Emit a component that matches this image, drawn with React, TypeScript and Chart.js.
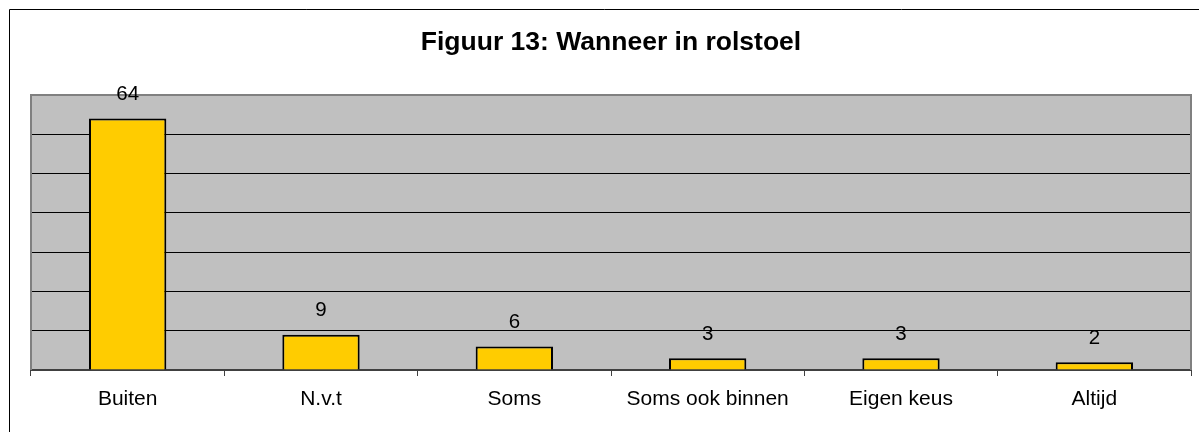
import React, { useEffect, useRef } from "react";
import { Chart, registerables } from "chart.js";

Chart.register(...registerables);

const categories = ["Buiten", "N.v.t", "Soms", "Soms ook binnen", "Eigen keus", "Altijd"];
const values = [64, 9, 6, 3, 3, 2];
const yMax = 70;
const yStep = 10;
const titleText = "Figuur 13: Wanneer in rolstoel";

const FONT = "'Liberation Sans', Arial, sans-serif";

const framePlugin = {
  id: "framePlugin",
  beforeDraw(chart: any) {
    const { ctx, chartArea } = chart;
    ctx.save();
    ctx.fillStyle = "#ffffff";
    ctx.fillRect(0, 0, chart.width, chart.height);
    // outer frame (left and top visible)
    ctx.strokeStyle = "#000000";
    ctx.lineWidth = 1;
    ctx.beginPath();
    ctx.moveTo(9.5, chart.height);
    ctx.lineTo(9.5, 9.5);
    ctx.lineTo(chart.width, 9.5);
    ctx.stroke();
    // plot background
    ctx.fillStyle = "#C0C0C0";
    ctx.fillRect(chartArea.left, chartArea.top, chartArea.right - chartArea.left, chartArea.bottom - chartArea.top);
    // title
    ctx.fillStyle = "#000000";
    ctx.font = `bold 26.5px ${FONT}`;
    ctx.textAlign = "center";
    ctx.textBaseline = "middle";
    ctx.fillText(titleText, (chartArea.left + chartArea.right) / 2, 43);
    ctx.restore();
  },
  afterDatasetsDraw(chart: any) {
    const { ctx, chartArea } = chart;
    ctx.save();
    // plot border: left, top, right grey
    ctx.strokeStyle = "#808080";
    ctx.lineWidth = 2;
    ctx.beginPath();
    ctx.moveTo(chartArea.left, chartArea.bottom);
    ctx.lineTo(chartArea.left, chartArea.top);
    ctx.lineTo(chartArea.right, chartArea.top);
    ctx.lineTo(chartArea.right, chartArea.bottom);
    ctx.stroke();
    // data labels
    const meta = chart.getDatasetMeta(0);
    ctx.fillStyle = "#000000";
    ctx.font = `20.5px ${FONT}`;
    ctx.textAlign = "center";
    ctx.textBaseline = "middle";
    meta.data.forEach((el: any, i: number) => {
      ctx.fillText(String(values[i]), el.x, el.y - 24);
    });
    ctx.restore();
  },
};

export default function App() {
  const ref = useRef<HTMLCanvasElement | null>(null);
  useEffect(() => {
    document.body.style.margin = "0";
    const canvas = ref.current!;
    const chart = new Chart(canvas, {
      type: "bar",
      data: {
        labels: categories,
        datasets: [
          {
            data: values,
            backgroundColor: "#FFCC00",
            borderColor: "#000000",
            borderWidth: 2,
            barPercentage: 0.4,
            categoryPercentage: 1,
          },
        ],
      },
      options: {
        responsive: false,
        animation: false,
        devicePixelRatio: 1,
        layout: { padding: { left: 31, right: 8, top: 95, bottom: 0 } },
        plugins: { legend: { display: false }, title: { display: false }, tooltip: { enabled: false } },
        scales: {
          x: {
            grid: {
              drawOnChartArea: false,
              drawTicks: true,
              tickLength: 6,
              color: "#404040",
              lineWidth: 1,
              offset: true,
            },
            border: { display: true, color: "#404040", width: 2 },
            ticks: { color: "#000000", font: { family: FONT, size: 21 }, padding: 11, maxRotation: 0, autoSkip: false },
            afterFit(scale: any) {
              scale.height = 62;
            },
          },
          y: {
            min: 0,
            max: yMax,
            ticks: { display: false, stepSize: yStep },
            border: { display: false },
            grid: {
              drawTicks: false,
              color: (c: any) => (c.tick && (c.tick.value === 0 || c.tick.value === yMax) ? "rgba(0,0,0,0)" : "#000000"),
              lineWidth: 1,
            },
            afterFit(scale: any) {
              scale.width = 0;
            },
          },
        },
      },
      plugins: [framePlugin],
    });
    return () => chart.destroy();
  }, []);
  return <canvas ref={ref} width={1199} height={432} style={{ display: "block", width: 1199, height: 432 }} />;
}
